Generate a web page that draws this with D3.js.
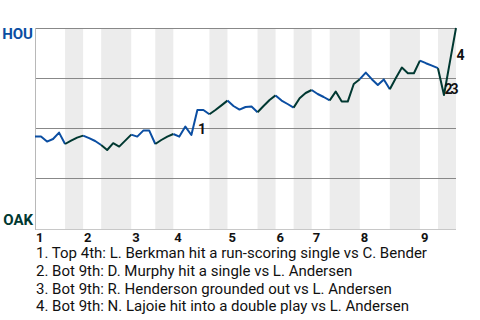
<!DOCTYPE html>
<html>
<head>
<meta charset="utf-8">
<script src="https://cdn.jsdelivr.net/npm/d3@7"></script>
<style>
  body { margin: 0; background: #fff; }
  text { font-family: Roboto, "Noto Sans", sans-serif; }
</style>
</head>
<body>
<div id="chart"></div>
<script>
// Team names (away on top, home at the bottom)
var teams = ["HOU", "OAK"];
var innings = ["1", "2", "3", "4", "5", "6", "7", "8", "9"];

// Plate appearances in each half inning: top 1, bot 1, top 2, ...
var halfCounts = [5, 3, 3, 5, 4, 3, 6, 3, 5, 3, 3, 3, 3, 5, 5, 5, 3, 3];

// HOU win probability after each plate appearance (first value = pregame)
var winProb = [
  0.457, 0.457, 0.432, 0.445, 0.477, 0.42,
  0.437, 0.452, 0.462,
  0.449, 0.435, 0.415,
  0.39, 0.424, 0.407, 0.437, 0.467,
  0.457, 0.487, 0.487, 0.42,
  0.44, 0.457, 0.47,
  0.457, 0.507, 0.465, 0.59, 0.59, 0.569,
  0.59, 0.613, 0.637,
  0.61, 0.592, 0.605, 0.607, 0.579,
  0.61, 0.64, 0.663,
  0.637, 0.62, 0.602,
  0.649, 0.675, 0.69,
  0.67, 0.655, 0.638,
  0.682, 0.632, 0.632, 0.72, 0.744,
  0.777, 0.744, 0.715, 0.743, 0.694,
  0.75, 0.802, 0.774, 0.774, 0.837,
  0.824, 0.812, 0.799,
  0.665, 0.833, 1.0
];

// Key plays: index into winProb and description
var eventIndex = [27, 68, 69, 70];
var eventText = [
  "Top 4th: L. Berkman hit a run-scoring single vs C. Bender",
  "Bot 9th: D. Murphy hit a single vs L. Andersen",
  "Bot 9th: R. Henderson grounded out vs L. Andersen",
  "Bot 9th: N. Lajoie hit into a double play vs L. Andersen"
];

var colors = { top: "#0b4ea2", bot: "#003831" };

var margin = { top: 28, right: 24, bottom: 92, left: 35 },
    width = 480 - margin.left - margin.right,
    height = 320 - margin.top - margin.bottom;

var svg = d3.select("#chart").append("svg")
    .attr("width", 480)
    .attr("height", 320);

var g = svg.append("g")
    .attr("transform", "translate(" + margin.left + "," + margin.top + ")");

var n = winProb.length - 1;
var x = d3.scaleLinear().domain([0, n]).range([0, width]);
var y = d3.scaleLinear().domain([0, 1]).range([height, 0]);

// half inning boundaries
var halves = [];
var start = 0;
halfCounts.forEach(function (c, k) {
    halves.push({ start: start, end: start + c, bottom: k % 2 == 1, inning: Math.floor(k / 2) });
    start += c;
});

// shaded bottom halves
g.selectAll(".band")
    .data(halves.filter(function (d) { return d.bottom; }))
    .enter().append("rect")
    .attr("class", "band")
    .attr("x", function (d) { return x(d.start); })
    .attr("width", function (d) { return x(d.end) - x(d.start); })
    .attr("y", 0)
    .attr("height", height + 1)
    .attr("fill", "#ececec");

// horizontal grid
g.selectAll(".grid")
    .data([0.25, 0.5, 0.75, 1])
    .enter().append("line")
    .attr("x1", 0)
    .attr("x2", width)
    .attr("y1", function (d) { return Math.round(y(d)) + 0.5; })
    .attr("y2", function (d) { return Math.round(y(d)) + 0.5; })
    .attr("stroke", "#888")
    .attr("stroke-width", 1);

// axes lines
g.append("line")
    .attr("x1", 0).attr("x2", width)
    .attr("y1", height + 1.5).attr("y2", height + 1.5)
    .attr("stroke", "#c8c8c8");
g.append("line")
    .attr("x1", 0.5).attr("x2", 0.5)
    .attr("y1", 0).attr("y2", height + 2)
    .attr("stroke", "#b8b8b8");

// team labels
g.append("text")
    .attr("x", -2).attr("y", 11)
    .attr("text-anchor", "end")
    .attr("font-size", 15).attr("font-weight", "bold")
    .attr("fill", colors.top)
    .text(teams[0]);
g.append("text")
    .attr("x", -2).attr("y", height - 3)
    .attr("text-anchor", "end")
    .attr("font-size", 15).attr("font-weight", "bold")
    .attr("fill", colors.bot)
    .text(teams[1]);

// inning labels
g.selectAll(".inning")
    .data(halves.filter(function (d) { return !d.bottom; }))
    .enter().append("text")
    .attr("class", "inning")
    .attr("x", function (d) { return x(d.start) + 1; })
    .attr("y", height + 14)
    .attr("font-size", 13).attr("font-weight", "bold")
    .attr("fill", "#111")
    .text(function (d) { return innings[d.inning]; });

// line segments coloured by the half inning
var line = d3.line()
    .x(function (d) { return x(d); })
    .y(function (d) { return y(winProb[d]); });

halves.forEach(function (h) {
    g.append("path")
        .datum(d3.range(h.start, h.end + 1))
        .attr("d", line)
        .attr("fill", "none")
        .attr("stroke", h.bottom ? colors.bot : colors.top)
        .attr("stroke-width", 2)
        .attr("stroke-linejoin", "round");
});

// key play markers
g.selectAll(".marker")
    .data(eventIndex)
    .enter().append("text")
    .attr("class", "marker")
    .attr("x", function (d) { return x(d) + 0.5; })
    .attr("y", function (d) { return Math.max(y(winProb[d - 1]), y(winProb[d])) - 1; })
    .attr("font-size", 14).attr("font-weight", "bold")
    .attr("fill", "#111")
    .text(function (d, i) { return i + 1; });

// key play descriptions
svg.selectAll(".desc")
    .data(eventText)
    .enter().append("text")
    .attr("class", "desc")
    .attr("x", 36)
    .attr("y", function (d, i) { return 258 + i * 17.8; })
    .attr("font-size", 15)
    .attr("fill", "#111")
    .text(function (d, i) { return (i + 1) + ". " + d; });
</script>
</body>
</html>
